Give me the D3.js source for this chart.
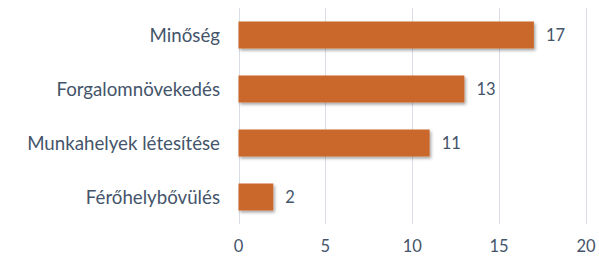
<!DOCTYPE html>
<html lang="hu">
  <head>
    <meta charset="UTF-8" />
    <title>Bar chart</title>
    <script src="https://d3js.org/d3.v7.min.js"></script>
    <style>
      body { margin: 0; background: #fff; }
      text { font-family: Lato, "Open Sans", sans-serif; fill: #44546a; }
    </style>
  </head>
  <body>
    <svg width="599" height="258"></svg>
    <script>
      // data
      var categories = ["Minőség", "Forgalomnövekedés", "Munkahelyek létesítése", "Férőhelybővülés"];
      var values = [17, 13, 11, 2];
      var ticks = [0, 5, 10, 15, 20];

      var svg = d3.select("svg");

      var x = d3.scaleLinear().domain([0, 20]).range([238.5, 586]);
      var y = d3.scaleBand().domain(categories).range([8, 224])
        .paddingInner(0.5).paddingOuter(0.25);

      // shadow under the bars
      var defs = svg.append("defs");
      var f = defs.append("filter").attr("id", "shadow")
        .attr("x", "-10%").attr("y", "-20%").attr("width", "130%").attr("height", "160%");
      f.append("feDropShadow").attr("dx", 1.5).attr("dy", 2).attr("stdDeviation", 1.5)
        .attr("flood-color", "#000").attr("flood-opacity", 0.35);

      // gridlines
      svg.append("g")
        .selectAll("line")
        .data(ticks)
        .join("line")
        .attr("x1", d => Math.round(x(d)) + 0.5)
        .attr("x2", d => Math.round(x(d)) + 0.5)
        .attr("y1", 8)
        .attr("y2", 224)
        .attr("stroke", "#d9dde5")
        .attr("stroke-width", 1);

      // x tick labels
      svg.append("g")
        .selectAll("text")
        .data(ticks)
        .join("text")
        .attr("x", d => x(d))
        .attr("y", 252)
        .attr("text-anchor", "middle")
        .attr("font-size", 16.5)
        .text(d => d);

      // bars
      svg.append("g")
        .selectAll("rect")
        .data(values)
        .join("rect")
        .attr("x", x(0))
        .attr("y", (d, i) => y(categories[i]))
        .attr("width", d => x(d) - x(0))
        .attr("height", y.bandwidth())
        .attr("fill", "#c9682b")
        .attr("filter", "url(#shadow)");

      // value labels
      svg.append("g")
        .selectAll("text")
        .data(values)
        .join("text")
        .attr("x", d => x(d) + 12)
        .attr("y", (d, i) => y(categories[i]) + y.bandwidth() / 2)
        .attr("dy", "0.35em")
        .attr("font-size", 16.5)
        .text(d => d);

      // category labels
      svg.append("g")
        .selectAll("text")
        .data(categories)
        .join("text")
        .attr("x", 220)
        .attr("y", d => y(d) + y.bandwidth() / 2)
        .attr("dy", "0.35em")
        .attr("text-anchor", "end")
        .attr("font-size", 18.7)
        .text(d => d);
    </script>
  </body>
</html>
